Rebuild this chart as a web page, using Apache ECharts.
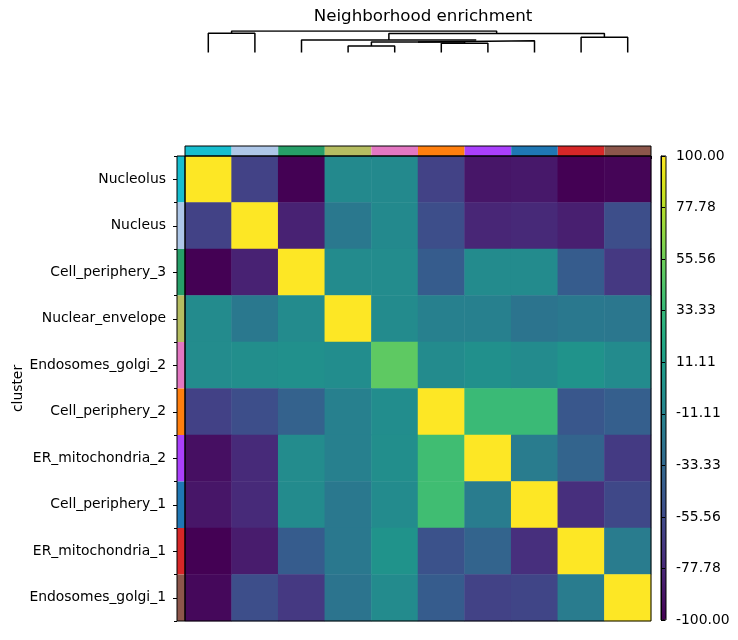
<!DOCTYPE html>
<html><head><meta charset="utf-8">
<script src="https://cdn.jsdelivr.net/npm/echarts@6/dist/echarts.min.js"></script>
<style>html,body{margin:0;padding:0;background:#fff}#c{width:738px;height:640px}</style>
</head><body><div id="c"></div>
<script>
const clusters = ['Nucleolus','Nucleus','Cell_periphery_3','Nuclear_envelope','Endosomes_golgi_2','Cell_periphery_2','ER_mitochondria_2','Cell_periphery_1','ER_mitochondria_1','Endosomes_golgi_1'];
const clusterColors = ['#17becf','#aec7e8','#279e68','#b5bd61','#e377c2','#ff7f0e','#aa40fc','#1f77b4','#d62728','#8c564b'];
// rows top->bottom, columns left->right (same order as clusters)
const rowNucleolus        = [100, -61, -100, -6, -6, -61, -88, -87, -100, -98];
const rowNucleus          = [-61, 100, -81, -20, -6, -53, -79, -77, -83, -53];
const rowCellPeriphery3   = [-100, -81, 100, -5, -4, -42, -5, -5, -42, -67];
const rowNuclearEnvelope  = [-5, -20, -5, 100, -5, -13, -13, -23, -20, -21];
const rowEndosomesGolgi2  = [-4, -2, -1, -3, 50, -5, -1, -5, 2, -5];
const rowCellPeriphery2   = [-62, -53, -38, -13, -3, 100, 35, 35, -46, -40];
const rowERMito2          = [-92, -76, -4, -13, -2, 38, 100, -17, -36, -66];
const rowCellPeriphery1   = [-88, -76, -5, -20, -5, 38, -17, 100, -73, -57];
const rowERMito1          = [-100, -85, -42, -20, 2, -50, -36, -73, 100, -17];
const rowEndosomesGolgi1  = [-96, -53, -67, -23, -5, -42, -61, -59, -17, 100];
const enrichment = [rowNucleolus,rowNucleus,rowCellPeriphery3,rowNuclearEnvelope,rowEndosomesGolgi2,rowCellPeriphery2,rowERMito2,rowCellPeriphery1,rowERMito1,rowEndosomesGolgi1];
const colorbarTicks = [100, 77.78, 55.56, 33.33, 11.11, -11.11, -33.33, -55.56, -77.78, -100];
// dendrogram linkage: [childA, childB, height]; ids >= 10 are merged nodes
const linkage = [[3,4,6.5],[5,6,9.2],[10,11,10.5],[12,7,11.8],[2,13,12.5],[8,9,15.2],[14,15,19.0],[0,1,19.2],[17,16,21.5]];
const viridis = ['#440154','#471365','#482475','#463480','#414487','#3b528b','#355f8d','#2f6c8e','#2a788e','#25848e','#21918c','#1e9c89','#22a884','#2fb47c','#44bf70','#5ec962','#7ad151','#9bd93c','#bddf26','#dfe318','#fde725'];

const FONT = 'DejaVu Sans';
const heatData = [];
enrichment.forEach((row, r) => row.forEach((v, c) => heatData.push([c, r, v])));

// dendrogram segments
const pos = clusters.map((_, i) => i);
const hgt = clusters.map(() => 0);
const dendroSeries = [];
linkage.forEach(([a, b, h]) => {
  dendroSeries.push({
    type: 'line', xAxisIndex: 3, yAxisIndex: 3, symbol: 'none', silent: true, animation: false,
    lineStyle: {color: '#000', width: 1.5},
    data: [[pos[a], hgt[a]], [pos[a], h], [pos[b], h], [pos[b], hgt[b]]]
  });
  pos.push((pos[a] + pos[b]) / 2);
  hgt.push(h);
});

const chart = echarts.init(document.getElementById('c'), null, {renderer: 'canvas'});
const hideAxis = {axisLine: {show: false}, axisTick: {show: false}, axisLabel: {show: false}, splitLine: {show: false}};
chart.setOption({
  animation: false,
  backgroundColor: '#fff',
  textStyle: {fontFamily: FONT},
  title: {text: 'Neighborhood enrichment', left: 418, top: 3, textAlign: 'center',
    textStyle: {fontFamily: FONT, fontSize: 16.7, fontWeight: 'normal', color: '#000'}},
  grid: [
    {left: 185, top: 156, width: 466, height: 465, show: true, borderColor: '#000', borderWidth: 1, z: 10, backgroundColor: 'transparent'},
    {left: 185, top: 146, width: 466, height: 10, show: true, borderColor: '#000', borderWidth: 1, z: 10, backgroundColor: 'transparent'},
    {left: 177, top: 156, width: 8, height: 465, show: true, borderColor: '#000', borderWidth: 1, z: 10, backgroundColor: 'transparent'},
    {left: 185, top: 31, width: 466, height: 21.5},
    {left: 661, top: 156, width: 5, height: 464, show: true, borderColor: '#000', borderWidth: 1, z: 10, backgroundColor: 'transparent'}
  ],
  xAxis: [
    Object.assign({type: 'category', gridIndex: 0, data: clusters}, hideAxis),
    {type: 'category', gridIndex: 1, data: clusters, axisLine: {show: false}, axisLabel: {show: false},
      axisTick: {show: true, length: 3, lineStyle: {color: '#000'}}, splitLine: {show: false}},
    Object.assign({type: 'value', gridIndex: 2, min: 0, max: 1}, hideAxis),
    Object.assign({type: 'value', gridIndex: 3, min: -0.5, max: 9.5}, hideAxis),
    Object.assign({type: 'value', gridIndex: 4, min: 0, max: 1}, hideAxis)
  ],
  yAxis: [
    Object.assign({type: 'category', gridIndex: 0, data: clusters, inverse: true}, hideAxis),
    Object.assign({type: 'value', gridIndex: 1, min: 0, max: 1}, hideAxis),
    {type: 'category', gridIndex: 2, data: clusters, inverse: true,
      name: 'cluster', nameLocation: 'middle', nameGap: 150, nameRotate: 90,
      nameTextStyle: {fontFamily: FONT, fontSize: 13.9, color: '#000'},
      axisLine: {show: false},
      axisTick: {show: true, alignWithLabel: true, length: 4, lineStyle: {color: '#000'}},
      axisLabel: {show: true, fontFamily: FONT, fontSize: 13.9, color: '#000', margin: 11, padding: [2, 0, 0, 0]},
      splitLine: {show: false}},
    Object.assign({type: 'value', gridIndex: 3, min: 0, max: 21.5}, hideAxis),
    {type: 'value', gridIndex: 4, min: -100, max: 100, position: 'right', z: 10,
      axisLine: {show: true, lineStyle: {color: '#000'}},
      axisTick: {show: true, length: 4, customValues: colorbarTicks, lineStyle: {color: '#000'}},
      axisLabel: {show: true, customValues: colorbarTicks, formatter: v => v.toFixed(2),
        fontFamily: FONT, fontSize: 13.9, color: '#000', margin: 10},
      splitLine: {show: false}},
    {type: 'category', gridIndex: 2, data: clusters, inverse: true, position: 'left',
      axisLine: {show: false}, axisLabel: {show: false},
      axisTick: {show: true, length: 3, lineStyle: {color: '#000'}}, splitLine: {show: false}}
  ],
  visualMap: {
    type: 'continuous', min: -100, max: 100, seriesIndex: 0, calculable: false,
    left: 661, top: 156, itemWidth: 5, itemHeight: 464, padding: 0, text: null,
    inRange: {color: viridis}, hoverLink: false
  },
  series: [
    {type: 'heatmap', xAxisIndex: 0, yAxisIndex: 0, data: heatData, silent: true, emphasis: {disabled: true}},
    {type: 'bar', xAxisIndex: 1, yAxisIndex: 1, barWidth: '100%', silent: true,
      data: clusters.map((_, i) => ({value: 1, itemStyle: {color: clusterColors[i]}}))},
    {type: 'bar', xAxisIndex: 2, yAxisIndex: 2, barWidth: '100%', silent: true,
      data: clusters.map((_, i) => ({value: 1, itemStyle: {color: clusterColors[i]}}))}
  ].concat(dendroSeries)
});
</script></body></html>
